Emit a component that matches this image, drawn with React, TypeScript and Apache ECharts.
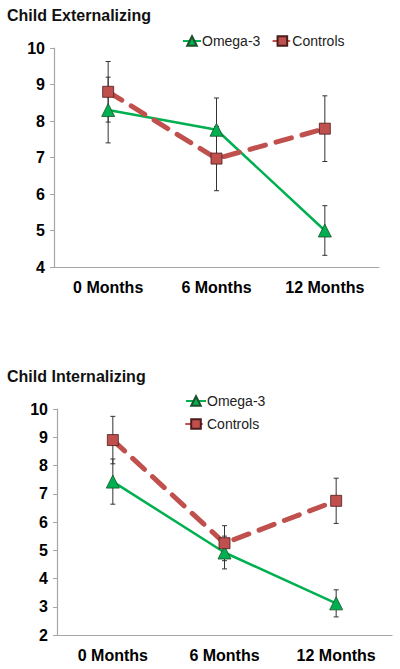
import React, { useEffect, useRef } from "react";
import * as echarts from "echarts";

const categories = ["0 Months", "6 Months", "12 Months"];

const extOmega = [8.3, 7.76, 5.0];
const extOmegaErr = [0.9, 0.87, 0.68];
const extControls = [8.8, 6.97, 7.79];
const extControlsErr = [0.83, 0.88, 0.9];

const intOmega = [7.43, 4.92, 3.12];
const intOmegaErr = [0.8, 0.58, 0.48];
const intControls = [8.9, 5.25, 6.75];
const intControlsErr = [0.84, 0.62, 0.8];

const GREEN = "#00b050";
const RED = "#c0504d";
const FONT = "Liberation Sans, Arial, sans-serif";

function errSeries(vals: number[], errs: number[], axis: number) {
  return {
    type: "custom",
    xAxisIndex: axis,
    yAxisIndex: axis,
    z: 1,
    silent: true,
    encode: { x: 0, y: 1 },
    data: vals.map((v, i) => [i, v, errs[i]]),
    renderItem: (params: any, api: any) => {
      const x = api.value(0);
      const y = api.value(1);
      const e = api.value(2);
      const t = api.coord([x, y + e]);
      const b = api.coord([x, y - e]);
      const st = { stroke: "#333", lineWidth: 1 };
      return {
        type: "group",
        children: [
          { type: "line", shape: { x1: t[0], y1: t[1], x2: b[0], y2: b[1] }, style: st },
          { type: "line", shape: { x1: t[0] - 2.5, y1: t[1], x2: t[0] + 2.5, y2: t[1] }, style: st },
          { type: "line", shape: { x1: b[0] - 2.5, y1: b[1], x2: b[0] + 2.5, y2: b[1] }, style: st },
        ],
      };
    },
  };
}

function omegaSeries(vals: number[], axis: number) {
  return {
    name: "Omega-3",
    type: "line",
    xAxisIndex: axis,
    yAxisIndex: axis,
    z: 2,
    data: vals,
    symbol: "triangle",
    symbolSize: 13,
    lineStyle: { color: GREEN, width: 2.5 },
    itemStyle: { color: GREEN, borderColor: "#1c4f2a", borderWidth: 0.8 },
  };
}

function controlsSeries(vals: number[], axis: number) {
  return {
    name: "Controls",
    type: "line",
    xAxisIndex: axis,
    yAxisIndex: axis,
    z: 3,
    data: vals,
    symbol: "rect",
    symbolSize: 11,
    lineStyle: { color: RED, width: 5, type: [16, 11], cap: "round" },
    itemStyle: { color: RED, borderColor: "#4a1c1b", borderWidth: 0.8 },
  };
}

const axisLabelY = { color: "#000", fontWeight: "bold", fontSize: 16, fontFamily: FONT, margin: 9 };
const axisLabelX = { color: "#000", fontWeight: "bold", fontSize: 16, fontFamily: FONT, margin: 12 };
const axisLine = { show: true, lineStyle: { color: "#a6a6a6", width: 1.2 } };

export default function App() {
  const ref = useRef<HTMLDivElement>(null);
  useEffect(() => {
    if (!ref.current) return;
    const chart = echarts.init(ref.current, null, { renderer: "svg" });
    chart.setOption({
      animation: false,
      backgroundColor: "#fff",
      title: [
        {
          text: "Child Externalizing",
          left: 7,
          top: 7,
          padding: 0,
          textStyle: { color: "#111", fontWeight: "bold", fontSize: 16, fontFamily: FONT },
        },
        {
          text: "Child Internalizing",
          left: 7,
          top: 368,
          padding: 0,
          textStyle: { color: "#111", fontWeight: "bold", fontSize: 16, fontFamily: FONT },
        },
      ],
      legend: [
        {
          data: ["Omega-3", "Controls"],
          left: 182,
          top: 34,
          padding: 0,
          itemWidth: 18,
          itemHeight: 12,
          itemGap: 12,
          textStyle: { color: "#222", fontSize: 14, fontFamily: FONT, padding: [0, 0, 0, -4] },
        },
        {
          data: ["Omega-3", "Controls"],
          orient: "vertical",
          left: 185,
          top: 394,
          padding: 0,
          itemWidth: 20,
          itemHeight: 12,
          itemGap: 9,
          textStyle: { color: "#222", fontSize: 14, fontFamily: FONT, padding: [0, 0, 0, -4] },
        },
      ],
      grid: [
        { left: 54, right: 21, top: 48, height: 219 },
        { left: 57, right: 8, top: 409, height: 226 },
      ],
      xAxis: [0, 1].map((i) => ({
        type: "category",
        gridIndex: i,
        data: categories,
        boundaryGap: true,
        axisLine,
        axisTick: { show: false },
        axisLabel: axisLabelX,
      })),
      yAxis: [
        {
          type: "value",
          gridIndex: 0,
          min: 4,
          max: 10,
          interval: 1,
          axisLine,
          axisTick: { show: true, length: 4, lineStyle: { color: "#a6a6a6" } },
          splitLine: { show: false },
          axisLabel: axisLabelY,
        },
        {
          type: "value",
          gridIndex: 1,
          min: 2,
          max: 10,
          interval: 1,
          axisLine,
          axisTick: { show: true, length: 4, lineStyle: { color: "#a6a6a6" } },
          splitLine: { show: false },
          axisLabel: axisLabelY,
        },
      ],
      series: [
        errSeries(extOmega, extOmegaErr, 0),
        errSeries(extControls, extControlsErr, 0),
        omegaSeries(extOmega, 0),
        controlsSeries(extControls, 0),
        errSeries(intOmega, intOmegaErr, 1),
        errSeries(intControls, intControlsErr, 1),
        omegaSeries(intOmega, 1),
        controlsSeries(intControls, 1),
      ],
    });
    return () => chart.dispose();
  }, []);
  return (
    <div
      ref={ref}
      style={{ position: "absolute", left: 0, top: 0, width: 400, height: 669, background: "#fff" }}
    />
  );
}
